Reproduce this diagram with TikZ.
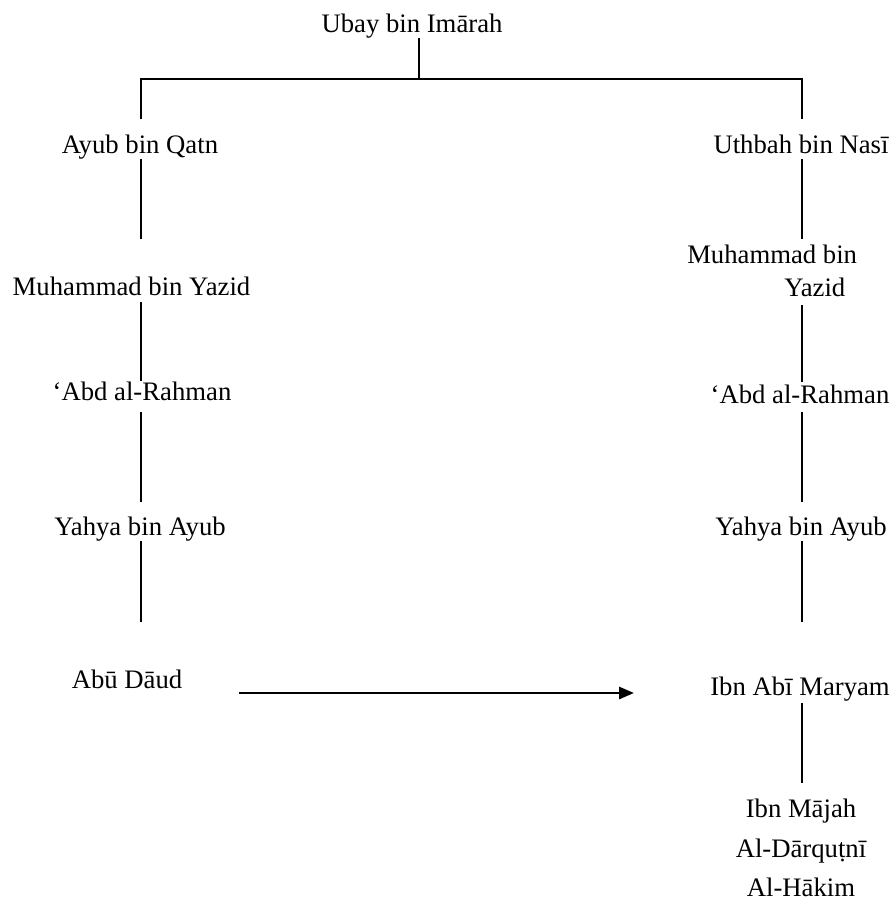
\documentclass[tikz,border=0pt]{standalone}
\usepackage{fontspec}
\setmainfont{Liberation Serif}
\usetikzlibrary{arrows.meta}
\begin{document}
\begin{tikzpicture}
  [x=0.5pt,y=-0.5pt,line width=1.25pt,
   every node/.style={inner sep=0pt,font=\fontsize{13.35}{16.5}\selectfont}]
  \tikzstyle{narrator} = [anchor=base]
  \tikzstyle{lastline} = [anchor=north,align=center,font=\fontsize{13.35}{19.8}\selectfont]
  \useasboundingbox (0,0) rectangle (893,900);
  \coordinate (colL) at (141,0);
  \coordinate (colR) at (802,0);
  \coordinate (fork) at (419,79);

  \node[narrator] (ubay) at (412,32) {Ubay bin Imārah};
  % left chain
  \node[narrator] (ayub)   at (140,153)   {Ayub bin Qatn};
  \node[narrator] (muhL)   at (131.5,295) {Muhammad bin Yazid};
  \node[narrator] (abdL)   at (142,400)   {‘Abd al-Rahman};
  \node[narrator] (yahyaL) at (140,535)   {Yahya bin Ayub};
  \node[narrator] (abu)    at (127,688)   {Abū Dāud};
  % right chain
  \node[narrator] (uthbah) at (801,153) {Uthbah bin Nasī};
  \node[anchor=north west,align=left] (muhR) at (686,244) {Muhammad bin\\\hspace*{48.5pt}Yazid};
  \node[narrator] (abdR)   at (800,403) {‘Abd al-Rahman};
  \node[narrator] (yahyaR) at (801,535) {Yahya bin Ayub};
  \node[narrator] (ibnabi) at (800,695) {Ibn Abī Maryam};
  \node[lastline] (books) at (801,798) {Ibn Mājah\\Al-Dārquṭnī\\Al-Hākim};

  \draw[shorten <=3pt] (ubay.base -| fork) -- (fork);
  \draw[shorten <=17pt,shorten >=17pt] (ayub.base -| colL) -- (fork -| colL)
    -- (fork -| colR) -- (uthbah.base -| colR);

\foreach \a/\b/\s/\e in {ayub/muhL/3pt/28pt,muhL/abdL/3.5pt/9.5pt,abdL/yahyaL/6pt/16.5pt,yahyaL/abu/3pt/33pt}
   \draw[shorten <=\s,shorten >=\e] (\a.base -| colL) -- (\b.base -| colL);

\foreach \a/\b/\s/\e in {uthbah.base/muhR.north/3pt/2.5pt,muhR.south/abdR.base/3.5pt/10.5pt,abdR.base/yahyaR.base/4.5pt/16.5pt,yahyaR.base/ibnabi.base/3pt/36.5pt,ibnabi.base/books.north/4pt/7.5pt}
   \draw[shorten <=\s,shorten >=\e] (\a -| colR) -- (\b -| colR);

  \draw[line width=1.4pt,-{Triangle[length=7.5pt,width=6pt]},shorten <=28pt,shorten >=37.5pt]
    ([yshift=-2.5pt]abu.base east) -- ([yshift=1pt]ibnabi.base west);
  \end{tikzpicture}
\end{document}
